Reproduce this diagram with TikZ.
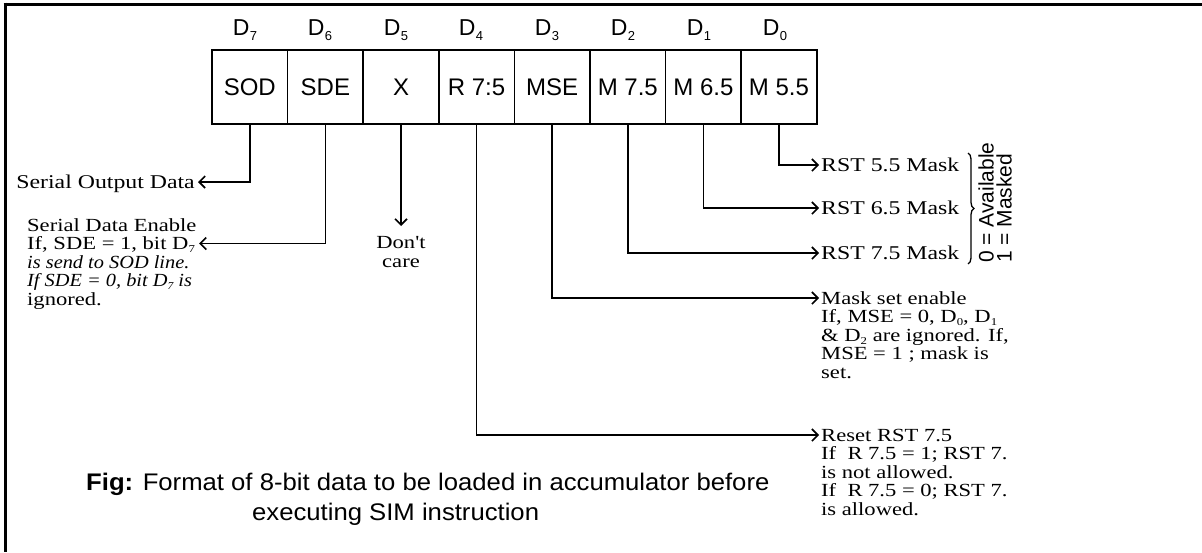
\documentclass[tikz,border=0pt]{standalone}
\usepackage{fontspec}
\setmainfont{Liberation Serif}
\newfontfamily\bodyfont[FakeStretch=1.22,ItalicFeatures={FakeStretch=1.1}]{Liberation Serif}
\newfontfamily\sansfont{Liberation Sans}
\newfontfamily\capfont[FakeStretch=1.07]{Liberation Sans}
\usetikzlibrary{arrows.meta,decorations.pathreplacing}
\newcommand{\Dlab}[1]{D\kern0.5pt\raisebox{-5pt}{\fontsize{13}{13}\selectfont #1}}
\newcommand{\lowsub}[1]{\raisebox{-3pt}{\fontsize{10.5}{10.5}\selectfont #1}}
\begin{document}
\begin{tikzpicture}[x=1pt,y=-1pt,
  cell/.style={draw, line width=1.5pt, minimum width=75.6pt, minimum height=74pt, inner sep=0pt, font=\sansfont\fontsize{24}{24}\selectfont},
  bitlab/.style={font=\sansfont\fontsize{23}{23}\selectfont, inner sep=0pt, anchor=base},
  conn/.style={line width=1.6pt, -{Straight Barb[length=6pt,width=12pt,line width=1.6pt]}},
  desc/.style={font=\bodyfont\fontsize{19.5}{19.5}\selectfont, inner sep=0pt, anchor=base west},
  descs/.style={desc, font=\bodyfont\fontsize{18.5}{18.5}\selectfont},
  vlab/.style={rotate=90, anchor=west, inner sep=0pt, font=\sansfont\fontsize{21}{21}\selectfont},
  frame/.style={line width=3pt},
]
\useasboundingbox (0,0) rectangle (1202,552);
\fill[white] (0,0) rectangle (1202,552);
\draw[frame] (3.5,4) -- (1202,4);
\draw[frame] (5.3,2.5) -- (5.3,552);

% register cells
\node[cell] (c7) at (249.8,87) {SOD};
\node[cell] (c6) at (325.4,87) {SDE};
\node[cell] (c5) at (401.0,87) {X};
\node[cell] (c4) at (476.6,87) {R 7:5};
\node[cell] (c3) at (552.2,87) {MSE};
\node[cell] (c2) at (627.8,87) {M 7.5};
\node[cell] (c1) at (703.4,87) {M 6.5};
\node[cell] (c0) at (779.0,87) {M 5.5};

% bit labels
\node[bitlab] (b7) at (245,35) {\Dlab{7}};
\node[bitlab] (b6) at (320,35) {\Dlab{6}};
\node[bitlab] (b5) at (396,35) {\Dlab{5}};
\node[bitlab] (b4) at (471,35) {\Dlab{4}};
\node[bitlab] (b3) at (547,35) {\Dlab{3}};
\node[bitlab] (b2) at (623,35) {\Dlab{2}};
\node[bitlab] (b1) at (699,35) {\Dlab{1}};
\node[bitlab] (b0) at (775,35) {\Dlab{0}};

% left descriptions
\node[desc, anchor=base east] (sodt) at (195,188) {Serial Output Data};
\draw[conn] (c7.south) |- ([xshift=3pt,yshift=6pt]sodt.base east);

\node[descs] (sde1) at (27,231) {Serial Data Enable};
\node[descs] (sde2) at (27,249.5) {If, SDE = 1, bit D\lowsub{7}};
\node[descs] (sde3) at (27,268) {\textit{is send to SOD line.}};
\node[descs] (sde4) at (27,286.5) {\textit{If SDE = 0, bit D\lowsub{7} is}};
\node[descs] (sde5) at (27,305) {ignored.};
\draw[conn] (c6.south) |- ([xshift=4pt,yshift=6pt]sde2.base east);

% don't care
\coordinate (xIn) at (401,226);
\draw[conn] (c5.south) -- (xIn);
\node[descs, anchor=base] (xt1) at (401,248) {Don't};
\node[descs, anchor=base] (xt2) at (401,267) {care};

% right descriptions
\node[desc] (r0) at (821,171) {RST 5.5 Mask};
\node[desc] (r1) at (821,214) {RST 6.5 Mask};
\node[desc] (r2) at (821,259) {RST 7.5 Mask};
\draw[conn] (c0.south) |- ([xshift=-2pt,yshift=6pt]r0.base west);
\draw[conn] (c1.south) |- ([xshift=-2pt,yshift=6pt]r1.base west);
\draw[conn] (c2.south) |- ([xshift=-2pt,yshift=6pt]r2.base west);

\draw[line width=1.3pt, decorate, decoration={brace, amplitude=6pt}] (968,153) -- (968,264);
\node[vlab] (avail) at (986,263) {0 = Available};
\node[vlab] (masked) at (1004,263) {1 = Masked};

\node[descs] (m1) at (821,304) {Mask set enable};
\node[descs] (m2) at (821,322.5) {If, MSE = 0, D\lowsub{0}, D\lowsub{1}};
\node[descs] (m3) at (821,341) {\& D\lowsub{2} are ignored. If,};
\node[descs] (m4) at (821,359.5) {MSE = 1 ; mask is};
\node[descs] (m5) at (821,378) {set.};
\draw[conn] (c3.south) |- ([xshift=-2pt,yshift=6pt]m1.base west);

\node[descs] (s1) at (821,441) {Reset RST 7.5};
\node[descs] (s2) at (821,459.5) {If\ \ R 7.5 = 1; RST 7.};
\node[descs] (s3) at (821,478) {is not allowed.};
\node[descs] (s4) at (821,496.5) {If\ \ R 7.5 = 0; RST 7.};
\node[descs] (s5) at (821,515) {is allowed.};
\draw[conn] (c4.south) |- ([xshift=-2pt,yshift=6pt]s1.base west);

% caption
\node[anchor=base west, inner sep=0pt, font=\capfont\fontsize{24}{24}\selectfont] (cap1) at (86,490)
  {\textbf{Fig:} Format of 8-bit data to be loaded in accumulator before};
\node[anchor=base west, inner sep=0pt, font=\capfont\fontsize{24}{24}\selectfont] (cap2) at (252,520)
  {executing SIM instruction};
\end{tikzpicture}
\end{document}
